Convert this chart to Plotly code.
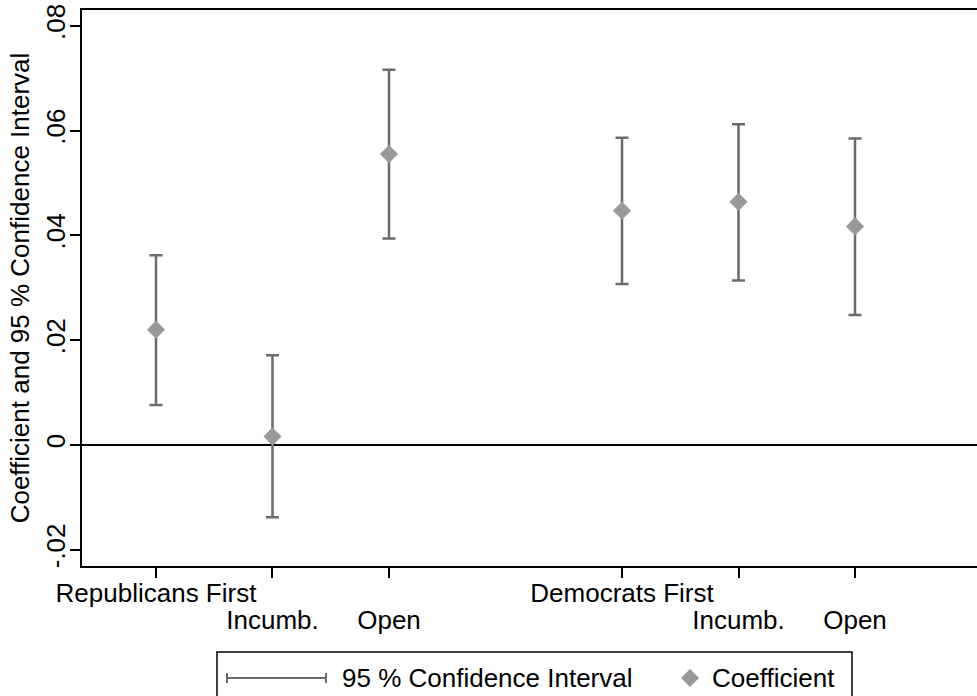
import plotly.graph_objects as go

# ---- data ----
groups = ["Republicans First", "Incumb.", "Open", "Democrats First", "Incumb.", "Open"]
group_start = [True, False, False, True, False, False]
positions = [1, 2, 3, 5, 6, 7]
coef = [0.0220, 0.0016, 0.0555, 0.0447, 0.0464, 0.0417]
upper = [0.0362, 0.0171, 0.0716, 0.0586, 0.0612, 0.0585]
lower = [0.0076, -0.0138, 0.0394, 0.0307, 0.0314, 0.0248]
y_ticks = [-0.02, 0, 0.02, 0.04, 0.06, 0.08]
y_ticktext = ["-.02", "0", ".02", ".04", ".06", ".08"]
legend_labels = ["95 % Confidence Interval", "Coefficient"]

FONT = "Liberation Sans, Arial, Helvetica, sans-serif"
FS = 26
BAR_COLOR = "#6b6b6b"
MARK_COLOR = "#9a9a9a"

W, H = 977, 696
ML, MR, MT, MB = 82, 0, 10, 130
PW = W - ML - MR
PH = H - MT - MB

row1_text = [g if s else "" for g, s in zip(groups, group_start)]
row2_text = ["" if s else g for g, s in zip(groups, group_start)]

fig = go.Figure()
fig.add_trace(go.Scatter(
    x=positions, y=coef, mode="markers",
    marker=dict(symbol="diamond", size=14, color=MARK_COLOR, line=dict(width=0)),
    error_y=dict(type="data", symmetric=False,
                 array=[u - c for u, c in zip(upper, coef)],
                 arrayminus=[c - l for c, l in zip(coef, lower)],
                 color=BAR_COLOR, thickness=2.5, width=6.5),
    showlegend=False, hoverinfo="skip",
))
# invisible companion trace so the second-row label axis is drawn
fig.add_trace(go.Scatter(
    x=positions, y=coef, mode="markers", xaxis="x2", yaxis="y",
    marker=dict(opacity=0, size=1), showlegend=False, hoverinfo="skip",
))

# ---- manual legend (Stata style) ----
def px_x(px):
    return (px - ML) / PW

def px_y(py):
    return (H - MB - py) / PH

shapes = []
shapes.append(dict(type="rect", xref="paper", yref="paper",
                   x0=px_x(217), x1=px_x(852), y0=px_y(720), y1=px_y(652),
                   line=dict(color="black", width=1.5), fillcolor="white", layer="above"))
ly = 678
shapes.append(dict(type="line", xref="paper", yref="paper",
                   x0=px_x(227), x1=px_x(326), y0=px_y(ly), y1=px_y(ly),
                   line=dict(color=BAR_COLOR, width=2), layer="above"))
for xx in (227, 326):
    shapes.append(dict(type="line", xref="paper", yref="paper",
                       x0=px_x(xx), x1=px_x(xx), y0=px_y(ly - 5), y1=px_y(ly + 5),
                       line=dict(color=BAR_COLOR, width=2), layer="above"))
cx, r = 690, 9
path = "M {} {} L {} {} L {} {} L {} {} Z".format(
    px_x(cx - r), px_y(ly), px_x(cx), px_y(ly - r), px_x(cx + r), px_y(ly), px_x(cx), px_y(ly + r))
shapes.append(dict(type="path", xref="paper", yref="paper", path=path,
                   fillcolor=MARK_COLOR, line=dict(width=0), layer="above"))

annotations = [
    dict(text=legend_labels[0], xref="paper", yref="paper", x=px_x(340), y=px_y(ly),
         xanchor="left", yanchor="middle", showarrow=False,
         font=dict(family=FONT, size=FS, color="black")),
    dict(text=legend_labels[1], xref="paper", yref="paper", x=px_x(710), y=px_y(ly),
         xanchor="left", yanchor="middle", showarrow=False,
         font=dict(family=FONT, size=FS, color="black")),
]

xrange = [0.365, 8.047]
fig.update_layout(
    width=W, height=H,
    margin=dict(l=ML, r=MR, t=MT, b=MB, pad=0),
    paper_bgcolor="white", plot_bgcolor="white",
    font=dict(family=FONT, size=FS, color="black"),
    shapes=shapes, annotations=annotations,
    showlegend=False,
    xaxis=dict(range=xrange, tickvals=positions, ticktext=row1_text,
               tickangle=0, ticklabelstandoff=-7,
               showgrid=False, zeroline=False, showline=True, linecolor="black",
               linewidth=2, mirror=True, ticks="outside", ticklen=10, tickwidth=1.5,
               tickcolor="black", tickfont=dict(family=FONT, size=FS, color="black"),
               automargin=False),
    xaxis2=dict(range=xrange, overlaying="x", anchor="y", side="bottom",
                tickvals=positions, ticktext=row2_text, tickangle=0,
                ticklabelstandoff=36, ticks="", showline=False, showgrid=False,
                zeroline=False, tickfont=dict(family=FONT, size=FS, color="black"),
                automargin=False),
    yaxis=dict(range=[-0.0231, 0.0830], tickvals=y_ticks, ticktext=y_ticktext,
               tickangle=-90, ticklabelstandoff=-5,
               showgrid=False, zeroline=True, zerolinecolor="black",
               zerolinewidth=2, showline=True, linecolor="black", linewidth=2,
               ticks="outside", ticklen=10, tickwidth=1.5, tickcolor="black",
               tickfont=dict(family=FONT, size=FS, color="black"),
               title=dict(text="Coefficient and 95 % Confidence Interval",
                          font=dict(family=FONT, size=FS, color="black"), standoff=3),
               automargin=False),
)

fig.write_html("out.html", config={"displayModeBar": False},
               post_script="document.body.style.margin='0';document.body.style.overflow='hidden';")
